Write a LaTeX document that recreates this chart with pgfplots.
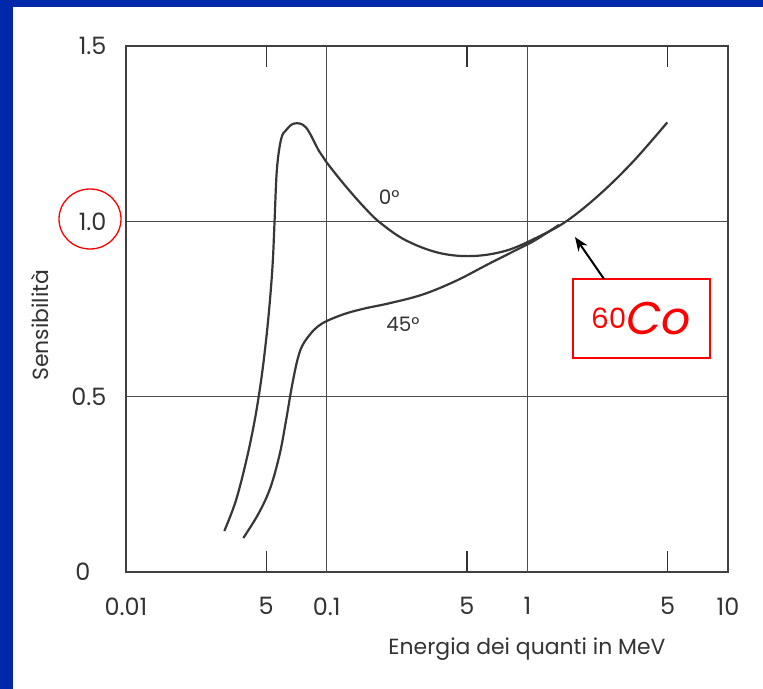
\documentclass[border=0pt]{standalone}
\usepackage{pgfplots}
\pgfplotsset{compat=1.18}
\usepackage{fontspec}
\setmainfont{Poppins}
\usetikzlibrary{arrows.meta}
\definecolor{slideblue}{RGB}{0,40,170}
\definecolor{curve}{RGB}{55,55,55}
\begin{document}
\begin{tikzpicture}
\useasboundingbox (0,0) rectangle (763bp,689bp);
\fill[white] (0,0) rectangle (763bp,689bp);
\fill[slideblue] (0,682bp) rectangle (763bp,689bp);
\fill[slideblue] (0,0) rectangle (13bp,689bp);
\begin{axis}[
  at={(126bp,117bp)}, anchor=south west,
  width=602bp, height=526bp, scale only axis,
  xmode=log, xmin=0.01, xmax=10, ymin=0, ymax=1.5,
  axis line style={draw=black!75, line width=1.4bp},
  xtick={0.01,0.05,0.1,0.5,1,5,10},
  xticklabels={0.01,5,0.1,5,1,5,10},
  minor xtick={},
  xtick style={draw=none},
  extra x ticks={0.1,1},
  extra x tick labels={},
  extra x tick style={grid=major},
  ytick={0,0.5,1,1.5},
  yticklabels={{0\kern16bp},{0.5},{1.0},{1.5}},
  ytick style={draw=none},
  ymajorgrids=true,
  grid style={draw=black!70, line width=0.9bp},
  xticklabel style={font=\fontsize{24}{27}\selectfont, text=black!80, yshift=-22bp},
  yticklabel style={font=\fontsize{24}{27}\selectfont, text=black!80, xshift=-16bp},
  xlabel={Energia dei quanti in MeV},
  xlabel style={font=\fontsize{22}{25}\selectfont, text=black!80, at={(axis description cs:0.666,0)}, anchor=north, yshift=-62bp},
  ylabel={Sensibilità},
  ylabel style={font=\fontsize{22}{25}\selectfont, text=black!80, at={(axis description cs:0,0.469)}, anchor=center, yshift=86bp},
  clip=false,
]
\addplot[curve, line width=2.2bp, smooth, tension=0.6] coordinates {
(0.03091,0.117) (0.03522,0.202) (0.03967,0.315) (0.04368,0.429) (0.04704,0.543)
(0.04978,0.656) (0.05208,0.770) (0.05388,0.884) (0.05500,1.000) (0.05651,1.149)
(0.05934,1.235) (0.0628,1.260) (0.0690,1.279) (0.0788,1.268) (0.0917,1.200)
(0.100,1.168) (0.1244,1.100) (0.1563,1.036) (0.1858,0.995) (0.2477,0.946)
(0.363,0.910) (0.532,0.901) (0.780,0.916) (1.10,0.952) (1.563,1.000)
(2.296,1.077) (3.386,1.172) (4.98,1.282)
};
\addplot[curve, line width=2.2bp, smooth, tension=0.6] coordinates {
(0.03843,0.097) (0.04571,0.166) (0.05238,0.240) (0.05834,0.336) (0.06266,0.430)
(0.06684,0.524) (0.07116,0.600) (0.07528,0.643) (0.08247,0.677) (0.09030,0.700)
(0.1012,0.717) (0.1244,0.737) (0.156,0.752) (0.204,0.766) (0.300,0.791)
(0.440,0.830) (0.644,0.879) (0.944,0.927) (1.10,0.947) (1.44,0.99)
};
\draw[black!80, line width=1.4bp] (axis cs:0.05,0) -- (axis cs:0.05,0.06);
\draw[black!80, line width=1.4bp] (axis cs:0.5,0) -- (axis cs:0.5,0.06);
\draw[black!80, line width=1.4bp] (axis cs:5,0) -- (axis cs:5,0.06);
\draw[black!80, line width=1.4bp] (axis cs:0.05,1.5) -- (axis cs:0.05,1.44);
\draw[black!80, line width=1.4bp] (axis cs:0.5,1.5) -- (axis cs:0.5,1.44);
\draw[black!80, line width=1.4bp] (axis cs:5,1.5) -- (axis cs:5,1.44);
\node[text=black!80, font=\fontsize{20}{23}\selectfont] at (axis cs:0.205,1.068) {0°};
\node[text=black!80, font=\fontsize{20}{23}\selectfont] at (axis cs:0.240,0.705) {45°};
\end{axis}
\draw[red, line width=1.3bp] (90bp,470bp) ellipse (31bp and 30bp);
\draw[red, line width=1.6bp] (573bp,331bp) rectangle (710bp,410bp);
\node[red, anchor=center, inner sep=0pt] at (641bp,370bp) {\raisebox{1.1ex}{\fontsize{28}{30}\selectfont 60}\fontsize{46}{50}\selectfont\itshape Co};
\draw[black, line width=2bp, -{Stealth[length=14bp, width=11bp]}] (604bp,410bp) -- (575bp,452bp);
\end{tikzpicture}
\end{document}
